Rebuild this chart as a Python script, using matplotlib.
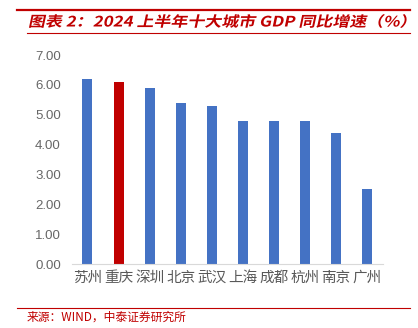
import matplotlib.pyplot as plt
import numpy as np
from matplotlib.textpath import TextPath
from matplotlib.patches import PathPatch
from matplotlib.font_manager import FontProperties
from matplotlib.transforms import Affine2D

plt.rcParams['font.family'] = ['Noto Sans CJK SC', 'DejaVu Sans']

# 数据
cities = ['苏州', '重庆', '深圳', '北京', '武汉', '上海', '成都', '杭州', '南京', '广州']
growth = [6.2, 6.1, 5.9, 5.4, 5.3, 4.8, 4.8, 4.8, 4.4, 2.5]
highlight = '重庆'
yticks = [0, 1, 2, 3, 4, 5, 6, 7]
title = '图表 2：2024 上半年十大城市 GDP 同比增速（%）'
source = '来源：WIND，中泰证券研究所'

red = '#C00000'
blue = '#4472C4'
colors = [red if c == highlight else blue for c in cities]

fig = plt.figure(figsize=(4.18, 3.28), dpi=100)
ax = fig.add_axes([0.172, 0.195, 0.744, 0.637])

x = np.arange(len(cities))
ax.bar(x, growth, width=0.32, color=colors)
ax.set_xlim(-0.5, len(cities) - 0.5)
ax.set_ylim(0, 7)
ax.set_yticks(yticks)
ax.set_yticklabels(['%.2f' % v for v in yticks], fontsize=9.5, color='#666666',
                   family=['Liberation Sans', 'DejaVu Sans'])
ax.set_xticks(x)
ax.set_xticklabels(cities, fontsize=10.5, color='#595959')
ax.tick_params(axis='both', length=0)
ax.tick_params(axis='y', pad=8)
ax.tick_params(axis='x', pad=5)
for s in ['top', 'right', 'left']:
    ax.spines[s].set_visible(False)
ax.spines['bottom'].set_color('#D9D9D9')

# 标题和上下红线
fig.add_artist(plt.Line2D([17 / 418, 410 / 418], [1 - 10 / 328] * 2, color=red, lw=1.6))
fig.add_artist(plt.Line2D([27 / 418, 410 / 418], [1 - 33 / 328] * 2, color=red, lw=0.8))

# 斜体标题：用文字路径加倾斜变换（像素坐标）
fp = FontProperties(family=['Noto Sans CJK SC', 'DejaVu Sans'], weight='bold')
tp = TextPath((0, 0), title, size=16, prop=fp)
w = tp.get_extents().width
sc = 376 / w
tr = Affine2D().scale(sc, sc * 0.85).skew_deg(12, 0).translate(28, 328 - 26.5)
patch = PathPatch(tr.transform_path(tp), color=red, lw=0, transform=None)
fig.add_artist(patch)

# 来源
fig.add_artist(plt.Line2D([17 / 418, 410 / 418], [1 - 308 / 328] * 2, color=red, lw=0.8))
fig.text(27 / 418, 1 - 317 / 328, source,
         fontsize=8.5, color=red, va='center', ha='left')

fig.savefig('out.png', dpi=100)
